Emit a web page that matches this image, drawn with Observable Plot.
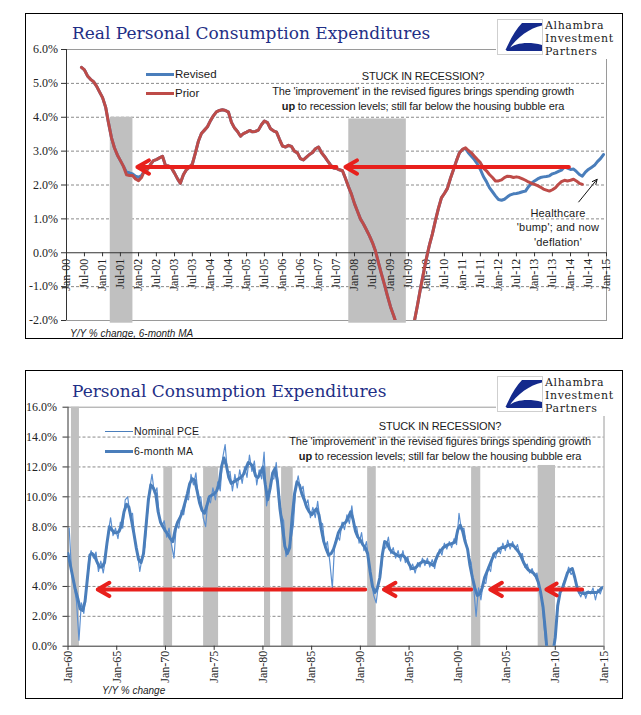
<!DOCTYPE html>
<html><head><meta charset="utf-8">
<script src="https://cdn.jsdelivr.net/npm/d3@7"></script>
<script src="https://cdn.jsdelivr.net/npm/@observablehq/plot@0.6"></script>
<style>
body{margin:0;background:#fff;width:641px;height:715px;position:relative;overflow:hidden}
.chart{position:absolute;left:0}
.frame{position:absolute;left:25px;width:598px;border:1.5px solid #000;box-sizing:border-box;pointer-events:none}
.title{position:absolute;left:72px;font-family:"DejaVu Serif",serif;font-size:17px;color:#1f2f86;line-height:1;white-space:nowrap}
.logo{position:absolute;left:496px;width:125px;height:44px;background:#fff}
.logo .box{position:absolute;left:1px;top:3.5px;width:46px;height:36px;border:1px solid #cfcfcf;box-sizing:border-box;background:#fff}
.logo .name{position:absolute;left:49px;font-family:"DejaVu Serif",serif;font-size:11px;line-height:12.8px;height:12.8px;letter-spacing:0.6px;color:#222;white-space:nowrap}
.note{position:absolute;font-family:"Liberation Sans",Arial,sans-serif;font-size:11px;letter-spacing:-0.15px;color:#1a1a1a;text-align:center;line-height:15px;white-space:nowrap}
.leg{position:absolute;font-family:"Liberation Sans",Arial,sans-serif;font-size:11.5px;color:#1a1a1a;line-height:15px;white-space:nowrap}
.leg2{position:absolute;font-family:"Liberation Sans",sans-serif;font-size:10.5px;color:#1a1a1a;line-height:15px;white-space:nowrap;letter-spacing:0.2px}
.sw{position:absolute}
.cap{position:absolute;font-family:"Liberation Sans",Arial,sans-serif;font-style:italic;font-size:10px;color:#222;line-height:13px;white-space:nowrap}
</style>
</head>
<body>
<div id="c1" class="chart" style="top:0"></div>
<div id="c2" class="chart" style="top:362px"></div>

<div class="frame" style="top:13px;height:326px"></div>
<div class="frame" style="top:370px;height:329px"></div>

<div class="title" style="top:24.9px">Real Personal Consumption Expenditures</div>
<div class="title" style="top:382.9px">Personal Consumption Expenditures</div>

<div class="logo" style="top:15px">
  <div class="box"><svg width="44" height="34" viewBox="1 1 44 34"><path d="M25 4 L45 4 L45 6.5 C33 9 20 18 11.5 31 L8.5 31 C14 19 19 10 25 4 Z" fill="#142a8c"/><path d="M9 32 C16 24 30 22 45 26 L45 32 Z" fill="#142a8c"/></svg></div>
  <div class="name" style="top:5px">Alhambra</div>
  <div class="name" style="top:17.8px">Investment</div>
  <div class="name" style="top:30.6px">Partners</div>
</div>
<div class="logo" style="top:372px">
  <div class="box"><svg width="44" height="34" viewBox="1 1 44 34"><path d="M25 4 L45 4 L45 6.5 C33 9 20 18 11.5 31 L8.5 31 C14 19 19 10 25 4 Z" fill="#142a8c"/><path d="M9 32 C16 24 30 22 45 26 L45 32 Z" fill="#142a8c"/></svg></div>
  <div class="name" style="top:5px">Alhambra</div>
  <div class="name" style="top:17.8px">Investment</div>
  <div class="name" style="top:30.6px">Partners</div>
</div>

<div class="note" style="left:223px;width:400px;top:68.5px">STUCK IN RECESSION?<br>The 'improvement' in the revised figures brings spending growth<br><b>up</b> to recession levels; still far below the housing bubble era</div>
<div class="note" style="left:240px;width:400px;top:418.5px">STUCK IN RECESSION?<br>The 'improvement' in the revised figures brings spending growth<br><b>up</b> to recession levels; still far below the housing bubble era</div>
<div class="note" style="left:508px;width:100px;top:205.5px;line-height:14.5px;letter-spacing:0.2px">Healthcare<br>'bump'; and now<br>'deflation'</div>

<div class="sw" style="left:146px;top:72.5px;width:28px;height:3px;background:#4a7ebb"></div>
<div class="leg" style="left:175px;top:66.5px">Revised</div>
<div class="sw" style="left:146px;top:92px;width:28px;height:3px;background:#be4b48"></div>
<div class="leg" style="left:175px;top:86px">Prior</div>

<div class="sw" style="left:105px;top:431px;width:28px;height:1.3px;background:#4a7ebb"></div>
<div class="leg2" style="left:134px;top:424.2px">Nominal PCE</div>
<div class="sw" style="left:105px;top:450.2px;width:28px;height:3px;background:#4a7ebb"></div>
<div class="leg2" style="left:134px;top:444.2px">6-month MA</div>

<div class="cap" style="left:70px;top:326.5px">Y/Y % change, 6-month MA</div>
<div class="cap" style="left:102px;top:683.5px">Y/Y % change</div>

<script>
// ---------- Panel 1: Real PCE, Y/Y % change, 6-month MA (monthly from Jun-00) ----------
const realStart = [5.47,5.40,5.22,5.12,5.05,4.92,4.75,4.58,4.30,3.85,3.40,3.10,2.88,2.72,2.55];
const revised2001 = [2.38,2.36,2.33,2.26,2.23,2.28];
const prior2001 = [2.30,2.28,2.28,2.18,2.13,2.22];
const realMiddle = [
 2.42,2.46,2.60,2.72,2.75,2.80,2.85,2.58,2.56,2.50,
 2.35,2.18,2.05,2.30,2.45,2.53,2.62,2.95,3.30,3.52,
 3.62,3.72,3.90,4.05,4.16,4.20,4.22,4.20,4.15,3.85,
 3.68,3.58,3.44,3.52,3.56,3.61,3.57,3.58,3.62,3.78,
 3.89,3.84,3.66,3.60,3.56,3.35,3.15,3.12,3.17,3.14,
 3.00,2.95,2.78,2.74,2.82,2.90,2.96,3.07,3.12,2.95,
 2.85,2.72,2.60,2.50,2.49,2.45,2.42,2.20,1.95,1.73,
 1.45,1.22,1.00,0.85,0.68,0.50,0.30,0.05,-0.30,-0.63,
 -0.95,-1.28,-1.60,-1.85,-2.10,-2.35,-2.50,-2.55,-2.45,-2.25,
 -2.00,-1.55,-1.05,-0.60,-0.15,0.25,0.55,0.95,1.30,1.62,
 1.75,1.90,2.20,2.45,2.72,2.95,3.05];
const revisedTail = [3.08,
 2.95,2.85,2.75,2.62,2.46,2.25,2.10,1.92,1.80,1.68,
 1.57,1.55,1.58,1.65,1.71,1.74,1.75,1.77,1.80,1.82,
 1.95,2.05,2.12,2.18,2.22,2.24,2.25,2.27,2.33,2.36,
 2.40,2.44,2.53,2.50,2.46,2.47,2.40,2.31,2.26,2.38,
 2.46,2.52,2.58,2.69,2.78,2.90];
const priorTail = [3.10,
 3.02,2.95,2.85,2.75,2.66,2.50,2.42,2.31,2.22,2.12,
 2.12,2.15,2.22,2.26,2.25,2.22,2.24,2.22,2.18,2.14,
 2.09,2.05,2.02,1.98,1.94,1.88,1.85,1.82,1.86,1.92,
 2.02,2.10,2.14,2.12,2.14,2.17,2.12,2.05,2.02];
const x1Labels = ["Jan-00","Jul-00","Jan-01","Jul-01","Jan-02","Jul-02","Jan-03","Jul-03","Jan-04","Jul-04","Jan-05","Jul-05","Jan-06","Jul-06","Jan-07","Jul-07","Jan-08","Jul-08","Jan-09","Jul-09","Jan-10","Jul-10","Jan-11","Jul-11","Jan-12","Jul-12","Jan-13","Jul-13","Jan-14","Jul-14","Jan-15"];
const y1Ticks = [-2,-1,0,1,2,3,4,5,6];
const y1Labels = ["-2.0%","-1.0%","0.0%","1.0%","2.0%","3.0%","4.0%","5.0%","6.0%"];
const rec1Start = ["2001-03-20","2007-11-04"];
const rec1End = ["2001-11-05","2009-06-10"];
const rec1Top = [4.0, 3.95];
const arrow1From = ["2013-12-15","2007-07-01"];
const arrow1To = ["2007-10-01","2001-12-20"];
const arrow1Level = 2.53;
const noteArrowFrom = {date:"2014-03-25", v:1.5};
const noteArrowTo = {date:"2014-09-28", v:2.17};

// ---------- Panel 2: Nominal PCE, Y/Y % change ----------
const maQuarterly = [
 6.2,5.4,4.6,3.8, 3.2,2.5,2.4,3.0, 4.6,6.1,6.2,6.0, 5.6,5.3,5.3,5.6, 6.9,8.0,7.8,7.6,
 7.6,7.7,8.1,9.0, 9.5,9.3,8.5,7.6, 6.6,5.8,5.6,6.2, 8.0,9.8,10.8,10.6, 10.2,9.0,8.3,8.0,
 7.7,7.5,7.2,7.0, 7.8,8.3,8.6,9.0, 9.6,10.2,10.9,11.2, 11.1,10.4,9.6,9.1, 8.9,9.4,10.0,10.1,
 10.2,10.4,10.8,12.0, 12.6,12.1,11.3,10.9, 11.0,11.1,11.2,11.3, 11.5,11.9,12.3,12.2, 12.0,11.4,11.3,11.6,
 12.0,10.8,9.8,10.6, 11.6,11.9,11.0,9.2, 8.0,6.7,6.2,6.6, 8.6,10.2,11.0,10.8, 10.2,9.8,9.3,9.0,
 8.8,9.0,9.2,8.8, 7.8,7.0,6.5,6.1, 6.2,6.5,7.0,7.6, 7.9,8.2,8.3,8.6, 9.0,8.5,7.7,7.3,
 7.1,6.8,6.6,6.2, 5.0,4.0,3.6,3.9, 4.6,6.1,7.0,6.9, 6.5,6.3,6.2,6.1, 6.0,6.1,6.0,5.8,
 5.5,5.2,5.2,5.3, 5.5,5.6,5.7,5.6, 5.6,5.5,5.4,5.8, 6.2,6.4,6.6,6.7, 6.8,6.85,6.9,7.0,
 7.8,8.1,7.7,7.0, 6.5,5.4,4.6,3.9, 3.4,3.5,3.9,4.6, 5.0,5.4,5.8,6.2, 6.3,6.5,6.6,6.6,
 6.7,6.8,6.8,6.7, 6.5,6.3,6.0,5.6, 5.3,5.1,5.0,4.9, 4.7,4.3,3.6,2.6, 0.9,-1.0,-1.4,-0.5,
 0.6,2.7,3.6,3.9, 4.4,4.9,5.1,5.2, 4.6,3.9,3.6,3.55, 3.5,3.6,3.6,3.6, 3.6,3.6,3.7,3.9];
const nominalPCE = [
 7.9,4.9,4.0,3.0, 0.4,2.9,2.2,3.6, 5.8,6.4,5.9,6.3, 5.0,5.7,4.9,6.0, 7.6,8.6,7.4,7.9,
 7.2,8.3,7.9,9.8, 10.0,8.8,8.9,7.0, 6.2,5.0,6.0,6.6, 8.6,10.5,11.5,10.2, 10.6,8.6,8.0,8.4,
 7.3,7.9,6.8,5.9, 8.2,7.9,9.1,8.8, 9.9,9.8,11.5,10.8, 11.6,9.9,10.0,8.6, 8.0,9.9,9.6,10.6,
 9.8,11.0,10.4,12.6, 13.5,11.6,11.7,10.4, 11.5,10.6,11.8,10.9, 12.0,11.3,12.8,11.7, 12.4,10.8,11.8,11.2,
 13.0,9.4,10.3,11.2, 11.2,12.3,10.5,8.8, 8.4,6.0,6.6,7.1, 8.1,10.6,11.4,10.4, 10.7,9.4,9.8,8.6,
 9.3,8.6,9.7,8.3, 8.2,6.6,7.0,5.6, 3.9,6.9,7.4,7.1, 8.3,7.8,8.8,8.2, 9.4,8.0,8.0,6.9,
 7.6,6.4,7.0,5.7, 4.4,3.4,2.9,4.2, 5.0,6.5,6.6,7.3, 6.2,6.6,5.9,6.4, 5.7,6.4,5.6,6.0,
 5.1,5.5,4.9,5.6, 5.3,5.9,5.4,5.9, 5.3,5.8,5.2,6.0, 6.5,6.1,6.9,6.5, 7.0,6.6,7.2,6.8,
 8.9,7.8,7.9,6.8, 6.0,5.6,4.0,2.0, 3.9,3.1,4.3,4.2, 5.3,5.0,6.2,5.9, 6.6,6.2,6.9,6.4,
 7.1,6.5,7.0,6.5, 6.8,6.1,6.2,5.3, 5.5,4.9,5.2,4.7, 4.9,4.0,3.2,1.2, -0.5,-1.5,-1.0,0.0,
 1.6,3.3,3.8,4.3, 4.7,5.3,4.8,5.0, 4.2,3.6,3.3,3.8, 3.2,3.7,3.5,3.9, 3.1,3.8,3.5,4.0];
const x2Labels = ["Jan-60","Jan-65","Jan-70","Jan-75","Jan-80","Jan-85","Jan-90","Jan-95","Jan-00","Jan-05","Jan-10","Jan-15"];
const y2Ticks = [0,2,4,6,8,10,12,14,16];
const y2Labels = ["0.0%","2.0%","4.0%","6.0%","8.0%","10.0%","12.0%","14.0%","16.0%"];
const rec2Start = ["1960-05-10","1969-11-01","1973-12-01","1980-03-01","1981-12-01","1990-10-01","2001-06-01","2008-04-01"];
const rec2End = ["1961-03-05","1970-09-25","1975-06-15","1980-10-15","1983-02-10","1991-08-20","2002-05-10","2010-01-10"];
const rec2Top = [16,12,12,12,12,12,12,12.1];
const arrow2From = ["1990-07-01","2001-05-15","2008-03-01","2012-10-01"];
const arrow2To = ["1963-01-20","1992-06-01","2003-05-01","2009-02-01"];
const arrow2Level = 3.8;

// ---------- build ----------
const utc = (y, m, d = 1) => new Date(Date.UTC(y, m, d));
const revised = [...realStart, ...revised2001, ...realMiddle, ...revisedTail].map((v, i) => ({date: utc(2000, 5 + i), v}));
const prior = [...realStart, ...prior2001, ...realMiddle, ...priorTail].map((v, i) => ({date: utc(2000, 5 + i), v}));
const x1Ticks = x1Labels.map((label, i) => ({date: utc(2000, 6 * i), label}));
const rec1 = rec1Start.map((s, i) => ({x1: new Date(s), x2: new Date(rec1End[i]), top: rec1Top[i]}));
const arr1 = arrow1From.map((s, i) => ({x1: new Date(s), x2: new Date(arrow1To[i]), y: arrow1Level}));

const RED = "#e8201c", BLUE = "#4a7ebb", PRIOR = "#be4b48";
const gridStyle = {stroke: "#8a8a8a", strokeOpacity: 1, strokeDasharray: "3,2"};

const p1 = Plot.plot({
  width: 641, height: 340,
  marginLeft: 66, marginRight: 35, marginTop: 49, marginBottom: 20,
  style: {fontFamily: "Liberation Serif, serif", fontSize: "12px", color: "#222", background: "transparent"},
  x: {type: "utc", domain: [utc(2000, 0), utc(2015, 0)], axis: null},
  y: {domain: [-2, 6], axis: null},
  marks: [
    Plot.gridY([-1, 1, 2, 3, 4, 5], gridStyle),
    Plot.frame({stroke: "#9a9a9a"}),
    Plot.rect(rec1, {x1: "x1", x2: "x2", y1: -2.08, y2: "top", fill: "#c0c0c0"}),
    Plot.ruleY([0], {stroke: "#333"}),
    Plot.ruleX([utc(2000, 0)], {stroke: "#333"}),
    Plot.axisY({ticks: y1Ticks, tickFormat: d => y1Labels[y1Ticks.indexOf(d)], tickSize: 5, tickPadding: 3.5, stroke: "#333"}),
    Plot.ruleX(x1Ticks, {x: "date", y1: 0, y2: -0.12, stroke: "#333"}),
    Plot.text(x1Ticks, {x: "date", y: 0, text: "label", rotate: -90, textAnchor: "end", dy: 6, fill: "#222", fontSize: 12}),
    Plot.lineY(revised, {x: "date", y: "v", stroke: BLUE, strokeWidth: 3, clip: true}),
    Plot.lineY(prior, {x: "date", y: "v", stroke: PRIOR, strokeWidth: 3, clip: true}),
    Plot.arrow(arr1, {x1: "x1", x2: "x2", y1: "y", y2: "y", stroke: RED, strokeWidth: 4, headLength: 5, headAngle: 60}),
    Plot.arrow([{}], {x1: () => new Date(noteArrowFrom.date), y1: () => noteArrowFrom.v, x2: () => new Date(noteArrowTo.date), y2: () => noteArrowTo.v, stroke: "#111", strokeWidth: 1, headLength: 8, headAngle: 50})
  ]
});
document.getElementById("c1").append(p1);

const ma = maQuarterly.map((v, i) => ({date: utc(1960, 3 * i), v}));
const nominal = nominalPCE.map((v, i) => ({date: utc(1960, 3 * i + 1, 15), v}));
const x2Ticks = x2Labels.map((label, i) => ({date: utc(1960 + 5 * i, 0), label}));
const rec2 = rec2Start.map((s, i) => ({x1: new Date(s), x2: new Date(rec2End[i]), top: rec2Top[i]}));
const arr2 = arrow2From.map((s, i) => ({x1: new Date(s), x2: new Date(arrow2To[i]), y: arrow2Level}));

const p2 = Plot.plot({
  width: 641, height: 340,
  marginLeft: 67.5, marginRight: 37.5, marginTop: 44.7, marginBottom: 56.3,
  style: {fontFamily: "Liberation Serif, serif", fontSize: "12px", color: "#222", background: "transparent"},
  x: {type: "utc", domain: [utc(1960, 0), utc(2015, 0)], axis: null},
  y: {domain: [0, 16], axis: null},
  marks: [
    Plot.gridY([2, 4, 6, 8, 10, 12, 14], gridStyle),
    Plot.ruleY([16], {stroke: "#9a9a9a"}),
    Plot.ruleX([utc(2015, 0)], {stroke: "#9a9a9a"}),
    Plot.rect(rec2, {x1: "x1", x2: "x2", y1: 0, y2: "top", fill: "#c0c0c0"}),
    Plot.ruleY([0], {stroke: "#333"}),
    Plot.ruleX([utc(1960, 0)], {stroke: "#333"}),
    Plot.axisY({ticks: y2Ticks, tickFormat: d => y2Labels[y2Ticks.indexOf(d)], tickSize: 5, tickPadding: 6, stroke: "#333"}),
    Plot.ruleX(x2Ticks, {x: "date", y1: 0, y2: -0.28, stroke: "#333"}),
    Plot.text(x2Ticks, {x: "date", y: 0, text: "label", rotate: -90, textAnchor: "end", dy: 4.5, fill: "#222", fontSize: 12}),
    Plot.lineY(nominal, {x: "date", y: "v", stroke: "#5b8fd0", strokeWidth: 1.2, clip: true}),
    Plot.lineY(ma, {x: "date", y: "v", stroke: BLUE, strokeWidth: 3, clip: true}),
    Plot.arrow(arr2, {x1: "x1", x2: "x2", y1: "y", y2: "y", stroke: RED, strokeWidth: 4, headLength: 5, headAngle: 60})
  ]
});
document.getElementById("c2").append(p2);
</script>
</body></html>
